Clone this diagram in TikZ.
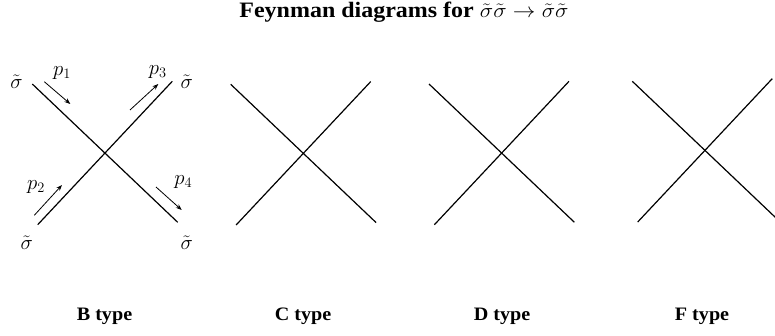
\documentclass[tikz,border=0pt]{standalone}
\usepackage{fontspec}
\setmainfont{Liberation Serif}
\usetikzlibrary{arrows.meta}
\begin{document}
\begin{tikzpicture}[x=1pt,y=-1pt,
  leg/.style={line width=1.2pt},
  mom/.style={line width=0.8pt,-{Stealth[length=6pt,width=4.5pt]}},
  lbl/.style={font=\fontsize{21}{21}\selectfont, inner sep=0},
  typecap/.style={font=\bfseries\fontsize{19}{19}\selectfont, inner sep=0},
  ttl/.style={font=\bfseries\fontsize{22}{22}\selectfont, inner sep=0}]
\useasboundingbox (0,0) rectangle (775,336);
\node[ttl, anchor=base] (title) at (404,18) {\scalebox{1.09}[1]{Feynman diagrams for $\tilde\sigma\tilde\sigma\rightarrow\tilde\sigma\tilde\sigma$}};
\foreach \i/\dx/\dy in {b/0/0, c/198.4/0.3, d/396.7/0, f/600/-2.7} {
  \begin{scope}[shift={(\dx,\dy)}]
    \coordinate (\i-tl) at (32.3,84);
    \coordinate (\i-br) at (177.7,222.3);
    \coordinate (\i-bl) at (37.7,224.7);
    \coordinate (\i-tr) at (172.3,81.3);
    \draw[leg] (\i-tl) -- (\i-br);
    \draw[leg] (\i-bl) -- (\i-tr);
  \end{scope}
}
% momentum arrows
\coordinate (m1s) at (44.3,81.7);  \coordinate (m1e) at (70.3,104);
\coordinate (m3s) at (130,110);    \coordinate (m3e) at (158.3,84);
\coordinate (m2s) at (34.3,215.3); \coordinate (m2e) at (62,185);
\coordinate (m4s) at (156,187);    \coordinate (m4e) at (181.7,210);
\draw[mom] (m1s) -- (m1e);
\draw[mom] (m3s) -- (m3e);
\draw[mom] (m2s) -- (m2e);
\draw[mom] (m4s) -- (m4e);
% labels
\node[lbl] (s1) at (16.5,82) {$\tilde\sigma$};
\node[lbl] (s3) at (186.7,82) {$\tilde\sigma$};
\node[lbl] (s2) at (26.7,243) {$\tilde\sigma$};
\node[lbl] (s4) at (186.7,243) {$\tilde\sigma$};
\node[lbl] (p1) at (62,73) {$p_1$};
\node[lbl] (p3) at (157.7,71.7) {$p_3$};
\node[lbl] (p2) at (36,186.7) {$p_2$};
\node[lbl] (p4) at (183.3,181.7) {$p_4$};
% captions
\node[typecap] (cb) at (104.5,316.7) {\scalebox{1.06}[1]{B type}};
\node[typecap] (cc) at (303,316.7) {\scalebox{1.06}[1]{C type}};
\node[typecap] (cd) at (502,316.7) {\scalebox{1.06}[1]{D type}};
\node[typecap] (cf) at (702,316.7) {\scalebox{1.06}[1]{F type}};
\end{tikzpicture}
\end{document}
